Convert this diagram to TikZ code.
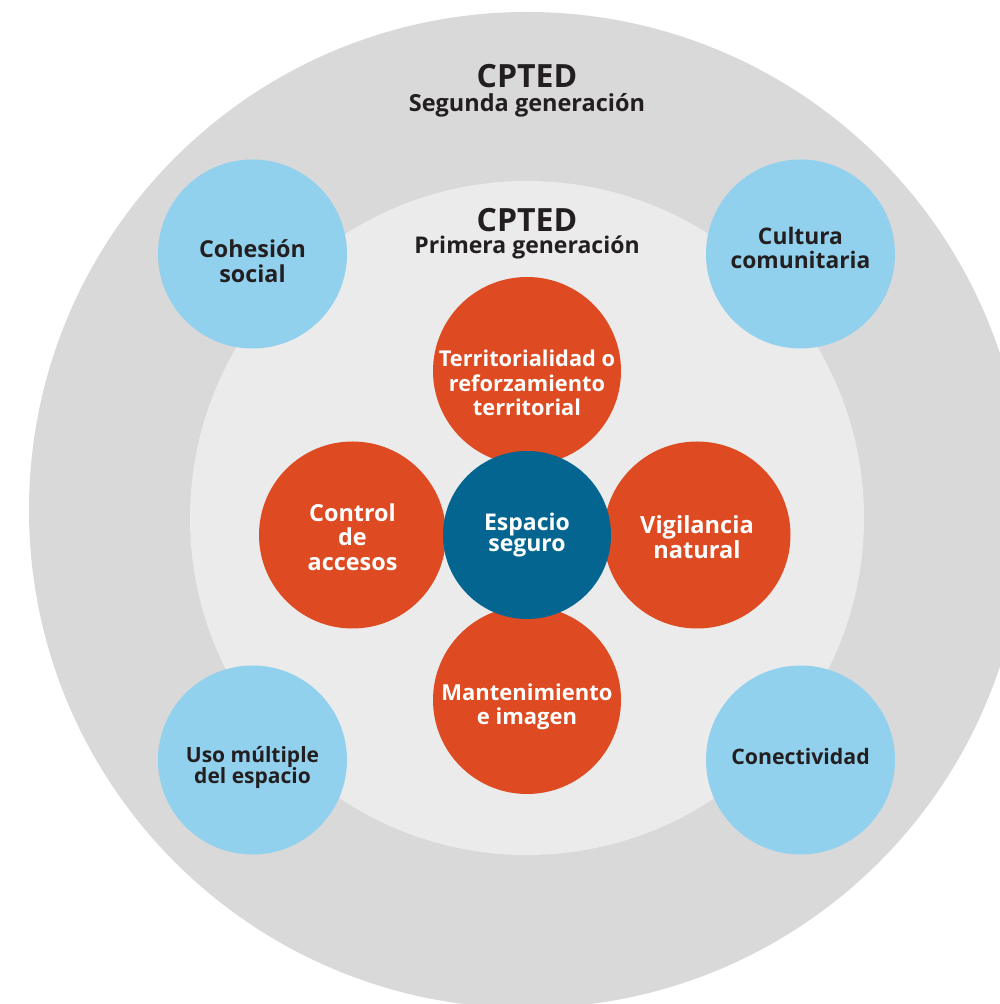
\documentclass[tikz,border=0pt]{standalone}
\usepackage{fontspec}
\setmainfont{Open Sans}
\definecolor{outergray}{HTML}{D9D9D9}
\definecolor{innergray}{HTML}{EBEBEB}
\definecolor{cptedorange}{HTML}{DE4A21}
\definecolor{cptedblue}{HTML}{046591}
\definecolor{cptedsky}{HTML}{92D1ED}
\definecolor{cptedtext}{HTML}{231F20}
\newcommand{\cptedbig}{\fontsize{32}{22}\selectfont}

\begin{document}
\begin{tikzpicture}[x=1pt,y=1pt,
	disc/.style={circle,inner sep=0pt,minimum size=#1},
	darktext/.style 2 args={text=cptedtext,align=center,font=\bfseries\fontsize{#1}{#2}\selectfont},
	whitetext/.style={text=white,align=center,font=\bfseries\fontsize{#1}{24.5}\selectfont},
	skytext/.style 2 args={text=cptedtext,align=center,font=\bfseries\fontsize{#1}{#2}\selectfont}]
	\useasboundingbox (0,0) rectangle (999,1004);
	
	% Draw the two generations
	\node[disc=996pt,fill=outergray] (segunda) at (527,494) {};
	\node[disc=674pt,fill=innergray] (primera) at (527,486) {};
	\node[darktext={23.5}{24}] (segundaT) at (527,913.7) {{\cptedbig CPTED}\\Segunda generación};
	\node[darktext={23}{22}] (primeraT) at (527,770.7) {{\cptedbig CPTED}\\Primera generación};
	
	% Draw second generation circles
	\node[disc=189pt,fill=cptedsky] (cohesion) at (252.5,750) {};
	\node[disc=189pt,fill=cptedsky] (cultura) at (800.5,750) {};
	\node[disc=189pt,fill=cptedsky] (uso) at (252.5,244) {};
	\node[disc=189pt,fill=cptedsky] (conect) at (800.5,244) {};
	\node[skytext={23.3}{25}] (cohesionT) at ([yshift=-7]cohesion.center) {Cohesión\\social};
	\node[skytext={22.8}{24}] (culturaT) at ([yshift=6]cultura.center) {Cultura\\comunitaria};
	\node[skytext={21}{21}] (usoT) at ([yshift=-7]uso.center) {Uso múltiple\\del espacio};
	\node[skytext={21.3}{21}] (conectT) at ([yshift=3]conect.center) {Conectividad};
	
	% Draw first generation circles
	\node[disc=188pt,fill=cptedorange] (terri) at (527,633) {};
	\node[disc=187pt,fill=cptedorange] (control) at (352.5,469) {};
	\node[disc=187pt,fill=cptedorange] (vigil) at (697,469) {};
	\node[disc=188pt,fill=cptedorange] (mant) at (527,304) {};
	\node[whitetext=21.8] (terriT) at ([yshift=-12]terri.center) {Territorialidad o\\reforzamiento\\territorial};
	\node[whitetext=23.4] (controlT) at ([yshift=-2]control.center) {Control\\de\\accesos};
	\node[whitetext=23.6] (vigilT) at ([yshift=-2]vigil.center) {Vigilancia\\natural};
	\node[whitetext=22] (mantT) at ([yshift=-7]mant.center) {Mantenimiento\\e imagen};
	
	% Draw safe space
	\node[disc=168pt,fill=cptedblue,text=white,align=center,font=\bfseries\fontsize{23}{21}\selectfont] (espacio) at (527,469) {Espacio\\seguro};
\end{tikzpicture}
\end{document}
